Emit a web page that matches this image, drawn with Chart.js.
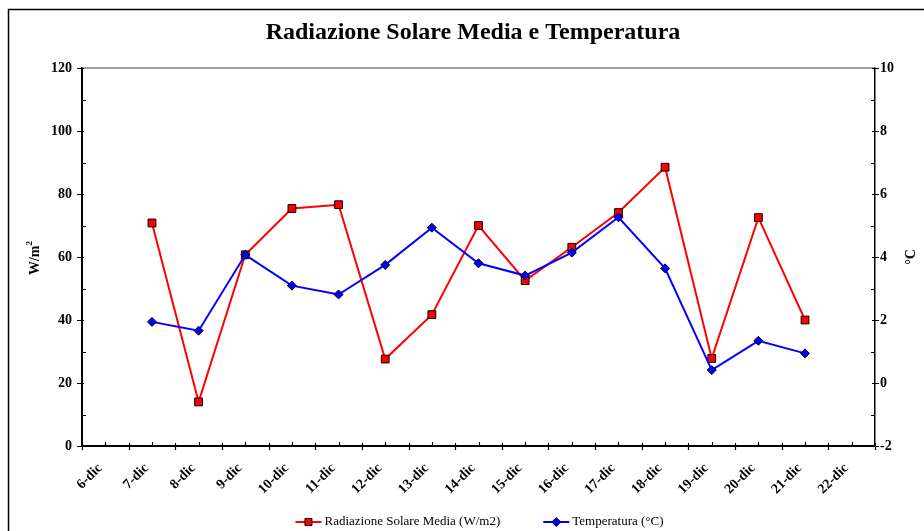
<!DOCTYPE html>
<html>
<head>
<meta charset="utf-8">
<script src="https://cdn.jsdelivr.net/npm/chart.js@4.4.1/dist/chart.umd.min.js"></script>
<style>
  html, body { margin: 0; padding: 0; background: #fff; }
  #wrap { width: 924px; height: 531px; }
</style>
</head>
<body>
<div id="wrap"><canvas id="chart" width="924" height="531"></canvas></div>
<script>
const dates = ['6-dic', '7-dic', '8-dic', '9-dic', '10-dic', '11-dic', '12-dic', '13-dic', '14-dic',
    '15-dic', '16-dic', '17-dic', '18-dic', '19-dic', '20-dic', '21-dic', '22-dic'];
const pointDates = ['7-dic', '8-dic', '9-dic', '10-dic', '11-dic', '12-dic', '13-dic', '14-dic',
    '15-dic', '16-dic', '17-dic', '18-dic', '19-dic', '20-dic', '21-dic'];
const radiazione = [70.8, 14.0, 60.7, 75.4, 76.6, 27.6, 41.7, 70.0, 52.5, 63.1, 74.1, 88.5, 27.8, 72.5, 40.0];
const temperatura = [1.94, 1.66, 4.07, 3.09, 2.81, 3.75, 4.93, 3.80, 3.41, 4.14, 5.26, 3.64, 0.41, 1.34, 0.94];
const leftTicks = [0, 20, 40, 60, 80, 100, 120];
const rightTicks = [-2, 0, 2, 4, 6, 8, 10];

const serif = '"Liberation Serif", "Times New Roman", serif';

// points sit at noon of each day
function toPoints(values) {
    return values.map((v, i) => ({ x: dates.indexOf(pointDates[i]) + 0.5, y: v }));
}

function drawMarker(ctx, x, y, color, shape) {
    ctx.fillStyle = color;
    ctx.strokeStyle = '#000';
    ctx.lineWidth = 1;
    ctx.beginPath();
    if (shape === 'rect') {
        ctx.rect(x - 3.5, y - 3.5, 7, 7);
    } else {
        ctx.moveTo(x, y - 4.5);
        ctx.lineTo(x + 4.5, y);
        ctx.lineTo(x, y + 4.5);
        ctx.lineTo(x - 4.5, y);
        ctx.closePath();
    }
    ctx.fill();
    ctx.stroke();
}

const frame = {
    id: 'frame',
    afterDraw(chart) {
        const ctx = chart.ctx;
        const area = chart.chartArea;
        const x = chart.scales.x;
        const yl = chart.scales.y;
        const yr = chart.scales.y1;
        ctx.save();
        // outer border
        ctx.strokeStyle = '#000';
        ctx.lineWidth = 1.5;
        ctx.strokeRect(8.5, 9.5, chart.width + 10, chart.height + 10);
        // top edge of plot
        ctx.strokeStyle = '#808080';
        ctx.lineWidth = 1.5;
        ctx.beginPath();
        ctx.moveTo(area.left, area.top);
        ctx.lineTo(area.right, area.top);
        ctx.stroke();
        // tick marks
        ctx.strokeStyle = '#000';
        ctx.lineWidth = 1.2;
        ctx.beginPath();
        for (let v = 0; v <= dates.length; v += 0.5) {
            const px = Math.round(x.getPixelForValue(v)) + 0.5;
            const major = Number.isInteger(v);
            ctx.moveTo(px, area.bottom - (major ? 3 : 4));
            ctx.lineTo(px, area.bottom + (major ? 4 : 0));
        }
        for (let v = 0; v <= 120; v += 10) {
            const py = Math.round(yl.getPixelForValue(v)) + 0.5;
            const major = v % 20 === 0;
            ctx.moveTo(area.left - (major ? 5 : 0), py);
            ctx.lineTo(area.left + (major ? 2 : 4), py);
        }
        for (let v = -2; v <= 10; v += 1) {
            const py = Math.round(yr.getPixelForValue(v)) + 0.5;
            const major = v % 2 === 0;
            ctx.moveTo(area.right - (major ? 3 : 4), py);
            ctx.lineTo(area.right + (major ? 4 : 0), py);
        }
        ctx.stroke();
        // axis titles
        ctx.fillStyle = '#000';
        ctx.textBaseline = 'middle';
        ctx.textAlign = 'left';
        ctx.font = 'bold 14px ' + serif;
        const mainW = ctx.measureText('W/m').width;
        ctx.font = 'bold 9px ' + serif;
        const supW = ctx.measureText('2').width;
        ctx.save();
        ctx.translate(35, 258);
        ctx.rotate(-Math.PI / 2);
        ctx.font = 'bold 14px ' + serif;
        ctx.fillText('W/m', -(mainW + supW) / 2, 0);
        ctx.font = 'bold 9px ' + serif;
        ctx.fillText('2', -(mainW + supW) / 2 + mainW, -5);
        ctx.restore();
        ctx.save();
        ctx.translate(911, 257);
        ctx.rotate(-Math.PI / 2);
        ctx.font = 'bold 14px ' + serif;
        ctx.textAlign = 'center';
        ctx.fillText('°C', 0, 0);
        ctx.restore();
        // legend: line + marker + label for each dataset
        ctx.font = '13px ' + serif;
        const sets = chart.data.datasets;
        const widths = sets.map((ds) => 29 + ctx.measureText(ds.label).width);
        const gap = 43;
        const total = widths.reduce((a, b) => a + b, 0) + gap * (sets.length - 1);
        let lx = 479.5 - total / 2;
        const ly = 522;
        sets.forEach((ds, i) => {
            ctx.strokeStyle = ds.borderColor;
            ctx.lineWidth = 2;
            ctx.beginPath();
            ctx.moveTo(lx, ly);
            ctx.lineTo(lx + 26, ly);
            ctx.stroke();
            drawMarker(ctx, lx + 13, ly, ds.backgroundColor, ds.pointStyle);
            ctx.fillStyle = '#000';
            ctx.textAlign = 'left';
            ctx.textBaseline = 'middle';
            ctx.fillText(ds.label, lx + 29, ly);
            lx += widths[i] + gap;
        });
        ctx.restore();
    }
};

const ctx = document.getElementById('chart').getContext('2d');

new Chart(ctx, {
    type: 'line',
    data: {
        datasets: [
            {
                label: 'Radiazione Solare Media (W/m2)',
                data: toPoints(radiazione),
                yAxisID: 'y',
                borderColor: '#ff0000',
                backgroundColor: '#ff0000',
                borderWidth: 2,
                pointStyle: 'rect',
                pointRadius: 5.5,
                pointBorderColor: '#000',
                pointBorderWidth: 1,
                order: 1,
            },
            {
                label: 'Temperatura (°C)',
                data: toPoints(temperatura),
                yAxisID: 'y1',
                borderColor: '#0000ff',
                backgroundColor: '#0000ff',
                borderWidth: 2,
                pointStyle: 'rectRot',
                pointRadius: 4.5,
                pointBorderColor: '#000',
                pointBorderWidth: 1,
                order: 0,
            },
        ],
    },
    options: {
        responsive: false,
        animation: false,
        events: [],
        layout: { padding: { top: 9, left: 22, right: 0, bottom: 0 } },
        scales: {
            x: {
                type: 'linear',
                min: 0,
                max: dates.length,
                grid: { display: false, drawTicks: false },
                border: { display: true, color: '#000', width: 2 },
                ticks: {
                    stepSize: 1,
                    autoSkip: false,
                    minRotation: 45,
                    maxRotation: 45,
                    labelOffset: 18,
                    padding: 14,
                    color: '#000',
                    font: { family: serif, size: 14, weight: 'bold' },
                    callback: (value) => dates[value] || '',
                },
                afterFit: (scale) => { scale.height = 85; },
            },
            y: {
                position: 'left',
                min: 0,
                max: 120,
                grid: { display: false, drawTicks: false },
                border: { display: true, color: '#000', width: 2 },
                ticks: {
                    stepSize: 20,
                    padding: 10,
                    color: '#000',
                    font: { family: serif, size: 14, weight: 'bold' },
                    callback: (value) => leftTicks.includes(value) ? value : '',
                },
                afterFit: (scale) => { scale.width = 60; },
            },
            y1: {
                position: 'right',
                min: -2,
                max: 10,
                grid: { display: false, drawTicks: false },
                border: { display: true, color: '#000', width: 1.5 },
                ticks: {
                    stepSize: 2,
                    padding: 5,
                    color: '#000',
                    font: { family: serif, size: 14, weight: 'bold' },
                    callback: (value) => rightTicks.includes(value) ? value : '',
                },
                afterFit: (scale) => { scale.width = 49; },
            },
        },
        plugins: {
            title: {
                display: true,
                text: 'Radiazione Solare Media e Temperatura',
                color: '#000',
                font: { family: serif, size: 24, weight: 'bold' },
                padding: { top: 9.6, bottom: 20.6 },
            },
            legend: { display: false },
            tooltip: { enabled: false },
        },
    },
    plugins: [frame],
});
</script>
</body>
</html>
